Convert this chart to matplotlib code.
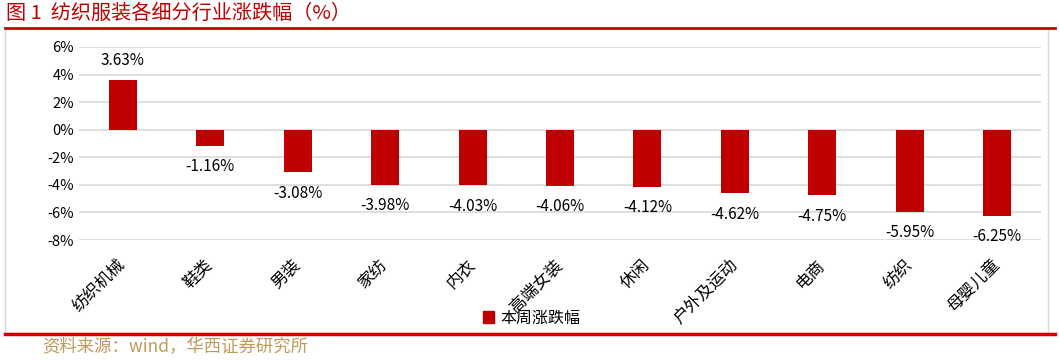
import matplotlib.pyplot as plt
from matplotlib.lines import Line2D
from matplotlib.patches import Rectangle

plt.rcParams['font.family'] = ['Noto Sans CJK SC', 'DejaVu Sans']
plt.rcParams['axes.unicode_minus'] = False

categories = ['纺织机械', '鞋类', '男装', '家纺', '内衣', '高端女装',
              '休闲', '户外及运动', '电商', '纺织', '母婴儿童']
changes = [3.63, -1.16, -3.08, -3.98, -4.03, -4.06, -4.12, -4.62, -4.75, -5.95, -6.25]
yticks = [6, 4, 2, 0, -2, -4, -6, -8]

bar_color = '#c00000'

fig = plt.figure(figsize=(10.59, 3.6), dpi=100)
ax = fig.add_axes([79 / 1059, 1 - 240 / 360, (1041 - 79) / 1059, 193 / 360])

x = range(len(categories))
bars = ax.bar(x, changes, width=0.32, color=bar_color, label='本周涨跌幅', zorder=3)

for xi, v in zip(x, changes):
    if v >= 0:
        ax.annotate(f'{v:.2f}%', (xi, v), xytext=(0, 14), textcoords='offset points',
                    ha='center', va='center', fontsize=11)
    else:
        ax.annotate(f'{v:.2f}%', (xi, v), xytext=(0, -15), textcoords='offset points',
                    ha='center', va='center', fontsize=11)

ax.set_xlim(-0.5, len(categories) - 0.5)
ax.set_ylim(-8, 6)
ax.set_yticks(yticks)
ax.set_yticklabels([f'{t}%' for t in yticks], fontsize=10.5)
ax.set_xticks(list(x))
ax.set_xticklabels(categories, rotation=45, ha='right', va='center',
                   rotation_mode='anchor', fontsize=12)
ax.tick_params(length=0)
ax.tick_params(axis='x', pad=16)
for s in ax.spines.values():
    s.set_visible(False)
ax.grid(axis='y', color='#d9d9d9', linewidth=1.2, zorder=0)

# legend
fig.legend(handles=[Rectangle((0, 0), 1, 1, color=bar_color)], labels=['本周涨跌幅'],
           loc='center', bbox_to_anchor=(532 / 1059, 1 - 318 / 360), frameon=False,
           fontsize=11.5, handlelength=0.7, handleheight=0.7, handletextpad=0.4)

# frame, title, source
fig.add_artist(Rectangle((5 / 1059, 1 - 333 / 360), 1043 / 1059, 305 / 360,
                         transform=fig.transFigure, fill=False, edgecolor='#d9d9d9', linewidth=1))
fig.add_artist(Line2D([5 / 1059, 1055 / 1059], [1 - 28 / 360] * 2, color='#d40000', linewidth=2))
fig.add_artist(Line2D([5 / 1059, 1055 / 1059], [1 - 334 / 360] * 2, color='#d40000', linewidth=2.5))
fig.text(6 / 1059, 1 - 13 / 360, '图 1  纺织服装各细分行业涨跌幅（%）', color='#c00000',
         fontsize=14.5, va='center', ha='left')
fig.text(42 / 1059, 1 - 347 / 360, '资料来源：wind，华西证券研究所', color='#c09a5b',
         fontsize=12.5, va='center', ha='left')

fig.savefig('out.png', dpi=100)
